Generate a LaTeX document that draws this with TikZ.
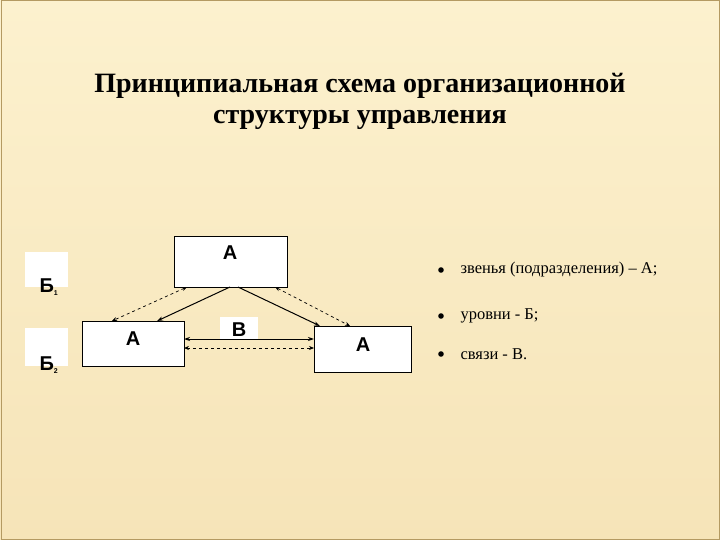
\documentclass[tikz,border=0pt]{standalone}
\usepackage{fontspec}
\setmainfont{Liberation Serif}
\newfontfamily\arial{Liberation Sans}
\usetikzlibrary{arrows.meta}
\definecolor{bgtop}{HTML}{FCF1CE}
\definecolor{bgbot}{HTML}{F6E4B8}
\definecolor{frm}{HTML}{B49A62}
\begin{document}
\begin{tikzpicture}[x=1pt,y=-1pt,
  box/.style={draw=black,fill=white,line width=0.6pt},
  lab/.style={font=\fontsize{20}{22}\selectfont\arial\bfseries},
  sol/.style={line width=1pt,-{Stealth[length=6pt,width=4pt]}},
  dsh/.style={line width=0.7pt,dashed,{Stealth[length=5pt,width=4pt]}-{Stealth[length=5pt,width=4pt]}},
  bul/.style={font=\fontsize{16.5}{18}\selectfont,anchor=west}]
\useasboundingbox (0,0) rectangle (720,540);
\shade[top color=bgtop,bottom color=bgbot] (0,0) rectangle (720,540);
\draw[frm,line width=1pt] (1,1) rectangle (719,539);
\node[font=\bfseries\fontsize{28}{31}\selectfont,align=center] (title) at (360,101)
  {Принципиальная схема организационной\\структуры управления};
% level boxes
\fill[white] (25,252) rectangle (68,287);
\fill[white] (25,328) rectangle (68,366);
\node[lab,anchor=base west] (b1) at (36,292) {Б\textsubscript{\fontsize{7}{7}\selectfont 1}};
\node[lab,anchor=base west] (b2) at (36,370) {Б\textsubscript{\fontsize{7}{7}\selectfont 2}};
% units
\draw[box] (174,236) rectangle (287,287);
\node[lab] (at) at (230,253) {А};
\draw[box] (82,321) rectangle (184,366);
\node[lab] (al) at (133,339) {А};
\draw[box] (314,326) rectangle (411,372);
\node[lab] (ar) at (363,345) {А};
\fill[white] (220,317) rectangle (258,339);
\node[lab] (bv) at (239,330) {В};
\coordinate (t1) at (187,287); \coordinate (t2) at (230,287);
\coordinate (t3) at (238,287); \coordinate (t4) at (275,287);
\coordinate (l1) at (112,321); \coordinate (l2) at (157,321);
\coordinate (r1) at (320,326); \coordinate (r2) at (350,326);
\coordinate (h1) at (184,339); \coordinate (h2) at (314,339);
\coordinate (d1) at (184,348); \coordinate (d2) at (314,348);
\draw[sol] (t2) -- (l2);
\draw[sol] (t3) -- (r1);
\draw[dsh] (t1) -- (l1);
\draw[dsh] (t4) -- (r2);
\draw[sol,{Stealth[length=6pt,width=4pt]}-{Stealth[length=6pt,width=4pt]}] (h1) -- (h2);
\draw[dsh] (d1) -- (d2);
% bullets
\foreach \y/\t in {270/{звенья (подразделения) – А;},316/{уровни - Б;},354/{связи - В.}}{
  \fill (441,\y) circle (2.8pt);
  \node[bul] at (457,\y) {\t};
}
\end{tikzpicture}
\end{document}
